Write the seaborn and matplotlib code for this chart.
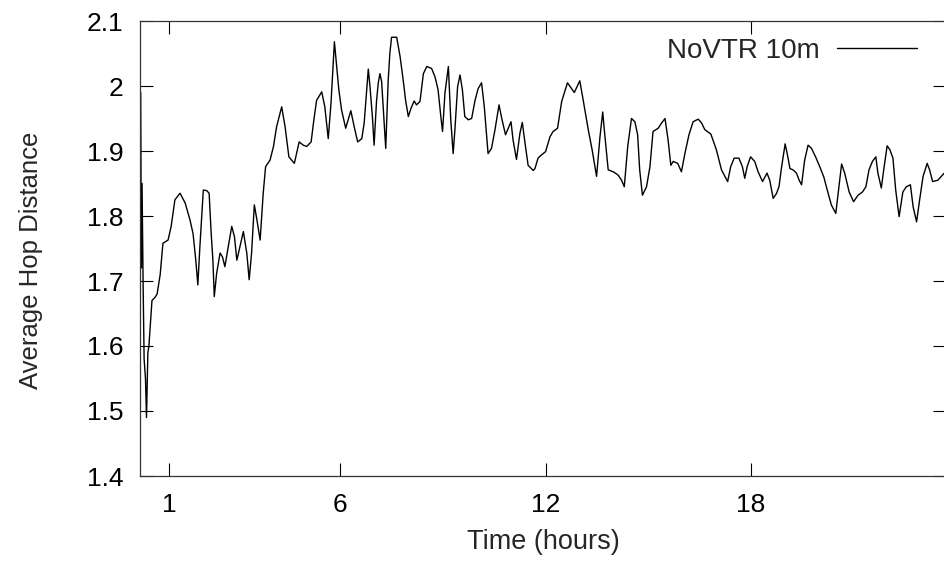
import numpy as np
import matplotlib
matplotlib.use('Agg')
import matplotlib.pyplot as plt
import seaborn as sns

# time in hours, average hop distance
hours = [0.17, 0.19, 0.21, 0.24, 0.27, 0.31, 0.34, 0.38, 0.41, 0.46, 0.50, 0.59, 0.65, 0.74, 0.82,
         0.97, 1.06, 1.17, 1.32, 1.47, 1.61, 1.70, 1.78, 1.84, 1.90, 2.00, 2.10, 2.17, 2.23,
         2.28, 2.32, 2.39, 2.49, 2.56, 2.63, 2.73, 2.83, 2.91, 2.98, 3.07, 3.17, 3.27, 3.34,
         3.41, 3.49, 3.56, 3.66, 3.75, 3.82, 3.95, 4.05, 4.14, 4.29, 4.39, 4.50, 4.66, 4.80,
         4.92, 5.02, 5.15, 5.23, 5.31, 5.46, 5.55, 5.65, 5.73, 5.83,
         5.96, 6.04, 6.16, 6.31, 6.41, 6.51, 6.63, 6.70, 6.82, 6.87, 6.94, 6.99, 7.06, 7.11,
         7.16, 7.21, 7.26, 7.33, 7.40, 7.45, 7.50, 7.65, 7.75, 7.84, 7.91, 7.99, 8.07, 8.16,
         8.23, 8.33, 8.43, 8.53, 8.67, 8.77, 8.86, 8.94, 8.99, 9.06, 9.16, 9.23, 9.30, 9.35,
         9.43, 9.50, 9.57, 9.64, 9.74, 9.84, 9.94, 10.03, 10.13, 10.21, 10.32, 10.42, 10.52,
         10.64, 10.72, 10.83, 10.99, 11.05, 11.15, 11.25, 11.32, 11.40, 11.49, 11.64,
         11.69, 11.78, 11.88, 12.00, 12.13, 12.22, 12.35, 12.47, 12.64, 12.84, 13.00, 13.10,
         13.25, 13.36, 13.49, 13.59, 13.67, 13.73, 13.83, 13.98, 14.12, 14.22, 14.30, 14.40,
         14.51, 14.61, 14.69, 14.75, 14.83, 14.95, 15.05, 15.14, 15.29, 15.39, 15.49, 15.58,
         15.66, 15.73, 15.86, 15.97, 16.07, 16.19, 16.31, 16.46, 16.56, 16.65, 16.83, 16.99,
         17.14, 17.32, 17.41, 17.51, 17.65,
         17.75, 17.82, 17.89, 17.99, 18.11, 18.21, 18.34, 18.47, 18.55, 18.65, 18.75, 18.82,
         18.89, 19.00, 19.06, 19.14, 19.23, 19.33, 19.41, 19.48, 19.57, 19.67, 19.77, 19.89,
         20.01, 20.13, 20.23, 20.35, 20.48, 20.55, 20.65, 20.74, 20.87, 21.00, 21.13, 21.26,
         21.36, 21.45, 21.55, 21.65, 21.71, 21.81, 21.88, 21.98, 22.06, 22.15, 22.23, 22.33,
         22.44, 22.54, 22.66, 22.74, 22.84, 22.93, 23.03, 23.15, 23.22, 23.31, 23.46, 23.65]

hop_distance = [1.99, 1.72, 1.85, 1.70, 1.58, 1.55, 1.49, 1.59, 1.60, 1.64, 1.67, 1.675, 1.68, 1.71, 1.758,
                1.763, 1.784, 1.825, 1.835, 1.82, 1.794, 1.773, 1.732, 1.694, 1.753, 1.84, 1.839, 1.835, 1.773,
                1.732, 1.676, 1.712, 1.743, 1.737, 1.722, 1.753, 1.784, 1.768, 1.732, 1.753, 1.776, 1.743, 1.702,
                1.743, 1.817, 1.796, 1.763, 1.835, 1.876, 1.886, 1.907, 1.937, 1.968, 1.937, 1.891, 1.881, 1.914,
                1.909, 1.907, 1.914, 1.948, 1.978, 1.991, 1.968, 1.919, 1.973, 2.068,
                1.994, 1.963, 1.935, 1.962, 1.937, 1.914, 1.919, 1.943, 2.026, 1.999, 1.953, 1.909, 1.976, 2.004,
                2.019, 2.007, 1.963, 1.904, 2.007, 2.05, 2.075, 2.075, 2.045, 2.009, 1.978, 1.953, 1.966, 1.977,
                1.971, 1.976, 2.019, 2.03, 2.027, 2.014, 1.994, 1.953, 1.93, 1.989, 2.03, 1.948, 1.896, 1.932,
                1.999, 2.017, 1.994, 1.953, 1.948, 1.95, 1.978, 1.996, 2.005, 1.968, 1.896, 1.904, 1.932,
                1.971, 1.95, 1.925, 1.945, 1.917, 1.887, 1.927, 1.944, 1.912, 1.878, 1.87,
                1.873, 1.889, 1.894, 1.899, 1.922, 1.93, 1.935, 1.976, 2.005, 1.99, 2.008, 1.978,
                1.932, 1.902, 1.861, 1.922, 1.96, 1.925, 1.871, 1.868, 1.863, 1.855, 1.845, 1.907,
                1.95, 1.945, 1.925, 1.871, 1.832, 1.845, 1.876, 1.93, 1.935, 1.943, 1.95, 1.917,
                1.878, 1.884, 1.881, 1.868, 1.896, 1.925, 1.945, 1.949, 1.943, 1.933, 1.926, 1.902,
                1.871, 1.853, 1.876, 1.889, 1.889,
                1.876, 1.858, 1.876, 1.891, 1.884, 1.868, 1.853, 1.866, 1.855, 1.827, 1.835, 1.845,
                1.873, 1.911, 1.896, 1.873, 1.871, 1.866, 1.855, 1.848, 1.886, 1.909, 1.904, 1.891,
                1.876, 1.86, 1.84, 1.817, 1.804, 1.835, 1.88, 1.866, 1.837, 1.822, 1.832, 1.837,
                1.845, 1.871, 1.884, 1.891, 1.866, 1.843, 1.871, 1.908, 1.902, 1.889, 1.84, 1.799,
                1.837, 1.845, 1.848, 1.814, 1.791, 1.825, 1.861, 1.881, 1.871, 1.853, 1.855, 1.866]

xtick_pos = [1, 6, 12, 18]
ytick_pos = [1.4, 1.5, 1.6, 1.7, 1.8, 1.9, 2.0, 2.1]

sns.set_style('ticks')
plt.rcParams['font.family'] = ['Liberation Sans', 'DejaVu Sans']

fig = plt.figure(figsize=(9.45, 5.63), dpi=100)
ax = fig.add_axes([140 / 945, 87 / 563, 806 / 945, 455 / 563])

sns.lineplot(x=hours, y=hop_distance, ax=ax, color='black', linewidth=1.0,
             estimator=None, sort=False, label='NoVTR 10m')

ax.set_xlim(0.15, 23.7)
ax.set_ylim(1.4, 2.1)
ax.set_xticks(xtick_pos)
ax.set_xticklabels([str(v) for v in xtick_pos])
ax.set_yticks(ytick_pos)
ax.set_yticklabels([f'{v:g}' for v in ytick_pos])
ax.tick_params(direction='in', top=True, right=True, length=9.4, width=0.8,
               labelsize=19, colors='black', pad=12)
for s in ax.spines.values():
    s.set_linewidth(0.9)
    s.set_color('#333333')

ax.set_xlabel('Time (hours)', fontsize=19.5)
ax.xaxis.set_label_coords(0.5, -0.117)
ax.set_ylabel('Average Hop Distance', fontsize=18.5)
ax.yaxis.set_label_coords(-0.12, 0.475)

ax.legend(loc='upper right', bbox_to_anchor=(0.985, 1.0), frameon=False, fontsize=20,
          markerfirst=False, handlelength=2.9, handletextpad=0.6, borderaxespad=0.2)

fig.savefig('out.png', dpi=100)
